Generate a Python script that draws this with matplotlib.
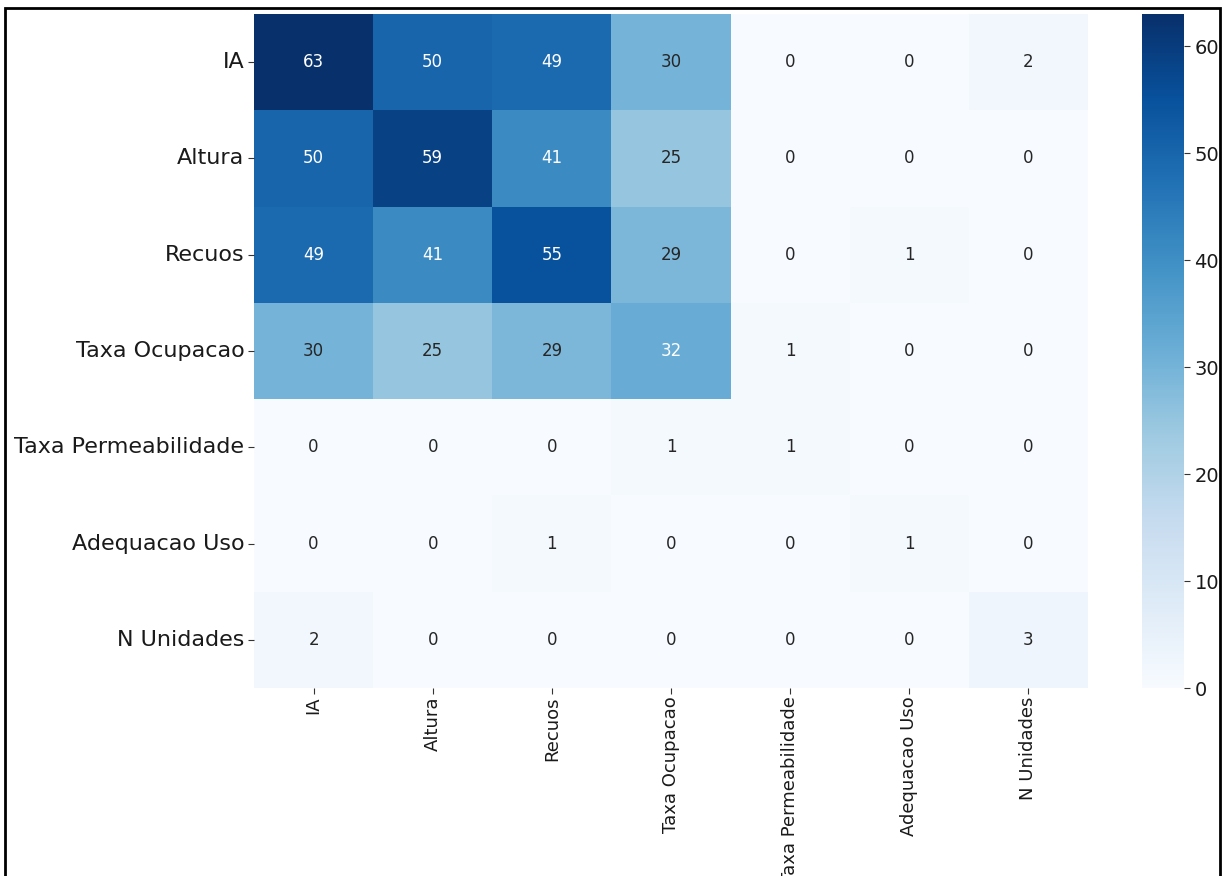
import matplotlib
matplotlib.use("Agg")
import matplotlib.pyplot as plt
import seaborn as sns
import numpy as np
from matplotlib.patches import Rectangle

labels = ["IA", "Altura", "Recuos", "Taxa Ocupacao", "Taxa Permeabilidade",
          "Adequacao Uso", "N Unidades"]
row_IA = [63, 50, 49, 30, 0, 0, 2]
row_Altura = [50, 59, 41, 25, 0, 0, 0]
row_Recuos = [49, 41, 55, 29, 0, 1, 0]
row_TaxaOcup = [30, 25, 29, 32, 1, 0, 0]
row_TaxaPerm = [0, 0, 0, 1, 1, 0, 0]
row_Adequacao = [0, 0, 1, 0, 0, 1, 0]
row_NUnid = [2, 0, 0, 0, 0, 0, 3]

data = np.array([row_IA, row_Altura, row_Recuos, row_TaxaOcup,
                 row_TaxaPerm, row_Adequacao, row_NUnid])

W, H = 1227, 876
fig = plt.figure(figsize=(W / 100, H / 100), dpi=100)
ax = fig.add_axes([254 / W, 1 - 688 / H, (1088 - 254) / W, (688 - 14) / H])
cax = fig.add_axes([1142 / W, 1 - 688 / H, (1184 - 1142) / W, (688 - 14) / H])

sns.heatmap(data, ax=ax, cbar_ax=cax, cmap="Blues", annot=True, fmt="d",
            annot_kws={"fontsize": 12},
            xticklabels=labels, yticklabels=labels)

ax.tick_params(axis="y", labelsize=16, rotation=0, colors="#333333",
               labelcolor="#1a1a1a", length=4, pad=3)
ax.tick_params(axis="x", labelsize=13, rotation=90, colors="#333333",
               labelcolor="#1a1a1a", length=4, pad=2)
cax.tick_params(labelsize=14, colors="#333333", labelcolor="#1a1a1a", length=4)

fig.patches.append(Rectangle((5 / W, -0.05), (1220 - 5) / W, 1 - 8 / H + 0.05,
                             transform=fig.transFigure, fill=False,
                             edgecolor="black", linewidth=2))

fig.savefig("out.png", dpi=100)
